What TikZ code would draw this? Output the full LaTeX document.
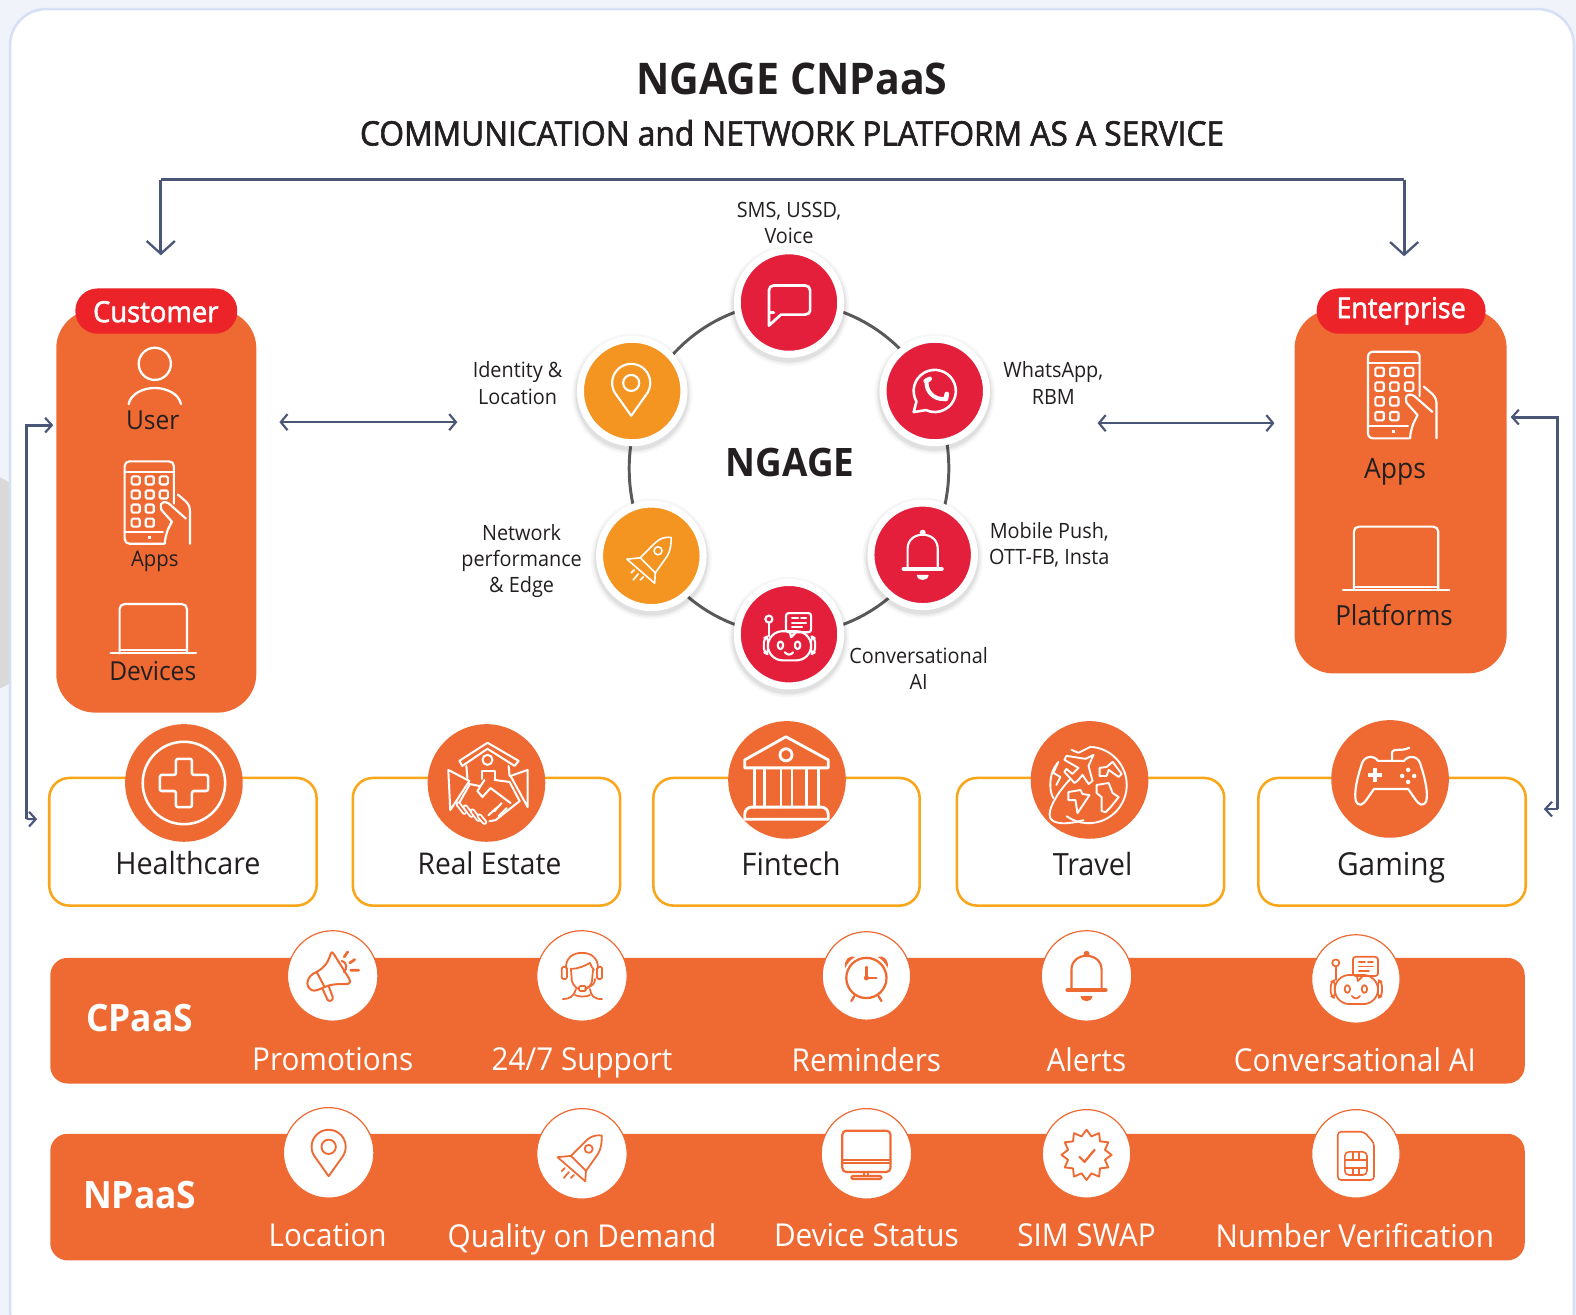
\documentclass[tikz,border=0pt]{standalone}
\usepackage{fontspec}
\setmainfont{Open Sans}[FakeStretch=0.94]
\newfontfamily\semib{Open Sans}[FakeStretch=0.94,FakeBold=1.8]
\usetikzlibrary{arrows.meta,fit}
\definecolor{ink}{HTML}{231F20}
\definecolor{cardorange}{HTML}{EF6A33}
\definecolor{pillred}{HTML}{EC2329}
\definecolor{discred}{HTML}{E31F3B}
\definecolor{discorange}{HTML}{F49421}
\definecolor{outline}{HTML}{FAA61A}
\definecolor{conncol}{HTML}{4A5678}
\definecolor{framecol}{HTML}{D6E0F5}
\definecolor{pagebg}{HTML}{F1F3FA}
\newcommand\px[2]{\fontsize{\fpeval{#1*0.75}}{\fpeval{#2*0.75}}\selectfont}
\tikzset{
  lbl/.style={inner sep=0pt,text=ink,align=center,text depth=0pt},
  wlbl/.style={inner sep=0pt,text=white,align=center,text depth=0pt},
  conn/.style={draw=conncol,line width=2.2pt,line join=miter},
  thinconn/.style={draw=conncol,line width=1.6pt},
  bigbarb/.style={-{Straight Barb[length=9.5pt,width=21pt,line width=1.7pt]}},
  smallbarb/.style={-{Straight Barb[length=5pt,width=11pt,line width=1.6pt]}},
  dblbarb/.style={{Straight Barb[length=5pt,width=12pt,line width=1.6pt]}-{Straight Barb[length=5pt,width=12pt,line width=1.6pt]}},
  cardbox/.style={inner sep=0pt,fill=cardorange,rounded corners=29pt},
  pillbox/.style={inner sep=0pt,fill=pillred,rounded corners=16.5pt},
  sector/.style={inner sep=0pt,draw=outline,line width=1.9pt,fill=white,rounded corners=15pt},
  bar/.style={inner sep=0pt,fill=cardorange,rounded corners=13pt},
  disc/.style={circle,inner sep=0pt,minimum size=77.25pt,draw=white,line width=5.25pt},
  sectordisc/.style={circle,inner sep=0pt,minimum size=87.75pt,fill=cardorange},
  whitedisc/.style={circle,inner sep=0pt,minimum size=67.5pt,fill=white,draw=cardorange,line width=.9pt},
  ico/.style={line width=1.6pt,line cap=round,line join=round},
  icow/.style={ico,color=white},
  icoo/.style={ico,color=cardorange},
}
\newcommand\iconphone{%
  \draw (49,42) -- (49,5) .. controls (49,2) and (47,0) .. (44,0) -- (5,0) .. controls (2,0) and (0,2) .. (0,5) -- (0,77) .. controls (0,80) and (2,82) .. (5,82) -- (39,82);
  \draw (0,11) -- (49,11);
  \draw (0,70) -- (38,70);
  \fill (23,74) rectangle (26,77);
  \foreach \cx in {11,25,39}{\foreach \cy in {19,33}{\draw[rounded corners=1pt] (\cx-4,\cy-4) rectangle (\cx+4,\cy+4);}}
  \foreach \cx in {11,25}{\foreach \cy in {47,61}{\draw[rounded corners=1pt] (\cx-4,\cy-4) rectangle (\cx+4,\cy+4);}}
  \draw (61,57) -- (44,42) .. controls (40,39) and (36,41) .. (36,44) .. controls (35,47) and (37,49) .. (39,51) -- (47,60) -- (43,68) .. controls (41,74) and (40,78) .. (40,82);
  \draw (53,33) -- (61,40) .. controls (64,43) and (65,46) .. (65,50) -- (65,82);
}
\newcommand\iconlaptop[3]{%
  \draw (0,#2) -- (0,5) .. controls (0,2) and (2,0) .. (5,0) -- (#1-5,0) .. controls (#1-2,0) and (#1,2) .. (#1,5) -- (#1,#2);
  \draw (0,#2-3) -- (#1,#2-3);
  \draw (-#3,#2) -- (#1+#3,#2);
}
\newcommand\iconbell{%
  \draw (-15,13) -- (-15,-6) .. controls (-15,-15) and (-8,-20) .. (0,-20) .. controls (8,-20) and (15,-15) .. (15,-6) -- (15,13);
  \draw[line width=3pt] (-19,14) -- (19,14);
  \fill (0,-22) circle[radius=3];
  \fill (-6,20) -- (6,20) .. controls (5,24) and (3,25) .. (0,25) .. controls (-3,25) and (-5,24) .. (-6,20) -- cycle;
}
\newcommand\iconbot{%
  \draw[rounded corners=11pt] (-21,-3) rectangle (22,26);
  \draw[rounded corners=3pt] (-25,4) -- (-21,2) -- (-21,20) -- (-25,18) -- cycle;
  \draw[rounded corners=3pt] (26,4) -- (22,2) -- (22,20) -- (26,18) -- cycle;
  \draw (-20,-15) circle[radius=3.5];
  \draw (-20,-11.5) -- (-20,2);
  \draw[rounded corners=2pt] (-3,-21) rectangle (22,-2);
  \draw (1,-2) -- (2,3) -- (7,-2);
  \draw (3,-16) -- (9,-16) (12,-16) -- (17,-16) (3,-11.5) -- (17,-11.5) (3,-7) -- (13,-7);
  \draw (-8.5,11) ellipse[x radius=2.7,y radius=3.8];
  \draw (8.5,11) ellipse[x radius=2.7,y radius=3.8];
  \draw (-4,18) .. controls (-2,21) and (2,21) .. (4,18);
}
\newcommand\iconpin[1]{%
  \draw (0,#1*1.72) -- (150:#1) arc[start angle=150,end angle=390,radius=#1] -- cycle;
  \draw (0,0) circle[radius=#1*0.42];
}
\newcommand\iconrocket{%
  \draw (19.7,-18.3) .. controls (12,-19) and (8,-17) .. (3,-12) -- (-11,2) -- (4,17) -- (16,0) .. controls (19,-5) and (20,-12) .. (19.7,-18.3) -- cycle;
  \draw (-11,2) -- (-24.3,3.3) -- (3.3,27.3) -- (4,17);
  \draw (6.7,-5) circle[radius=4];
  \draw (-17,14) -- (-20,17) (-13,18) -- (-18,24) (-8,21) -- (-11,24);
}
\begin{document}
\begin{tikzpicture}[x=0.75pt,y=-0.75pt]
\useasboundingbox (0,0) rectangle (1568,1308);
\fill[pagebg] (0,0) rectangle (1568,1308);
\fill[black!15] (0,475) -- (10,480) -- (10,680) -- (0,685) -- cycle;
\node[inner sep=0pt,fill=white,draw=framecol,line width=1.9pt,rounded corners=27pt,fit={(10,9)(1566,1340)}] (frame) {};

% title
\node[lbl,font=\px{43.4}{50}\bfseries] (title) at (788,78) {NGAGE CNPaaS};
\node[lbl,font=\px{33.5}{38}\semib] (subtitle) at (788,132) {COMMUNICATION and NETWORK PLATFORM AS A SERVICE};

% ring
\coordinate (ringc) at (785,466);
\draw[draw=black!65,line width=2.2pt] (ringc) ellipse[x radius=159,y radius=165];

% connector end points
\coordinate (topL) at (160,254);
\coordinate (topLc) at (160,179);
\coordinate (topRc) at (1397,179);
\coordinate (topR) at (1397,255);
\coordinate (dA) at (278,420);
\coordinate (dB) at (455,420);
\coordinate (dC) at (1092,421);
\coordinate (dD) at (1268,421);
\coordinate (lT) at (53,423);
\coordinate (lTc) at (26,423);
\coordinate (lBc) at (26,815);
\coordinate (lB) at (37,815);
\coordinate (rT) at (1503,415);
\coordinate (rTc) at (1550,415);
\coordinate (rBc) at (1550,805);
\coordinate (rB) at (1536,805);

\draw[conn,bigbarb] (topLc) -- (topL);
\draw[conn,bigbarb] (topRc) -- (topR);
\draw[conn] (topLc) -- (topRc);
\draw[thinconn,dblbarb] (dA) -- (dB);
\draw[thinconn,dblbarb] (dC) -- (dD);
\draw[conn,smallbarb] (lBc) -- (lTc) -- (lT);
\draw[thinconn,smallbarb,rounded corners=2pt] (lTc) -- (lBc) -- (lB);
\draw[conn,smallbarb] (rBc) -- (rTc) -- (rT);
\draw[thinconn,smallbarb] (rBc) -- (rB);

% customer card
\node[cardbox,fit={(56,308)(255,709)}] (customer) {};
\node[pillbox,fit={(75,287)(236,332)}] (customerpill) {};
\node[wlbl,font=\px{29}{32}\semib] (customertxt) at (155,310) {Customer};
\begin{scope}[icow]
  \draw[line width=1.7pt] (154,362) circle[radius=16];
  \draw[line width=1.7pt] (128,402) .. controls (130,392) and (142,386) .. (154,386) .. controls (166,386) and (178,392) .. (180,402);
\end{scope}
\node[lbl,font=\px{26}{32}] (usertxt) at (152,418) {User};
\begin{scope}[icow,shift={(124,459)}] \iconphone \end{scope}
\node[lbl,font=\px{21.5}{28}] (appstxt) at (154,556) {Apps};
\begin{scope}[icow,shift={(119,601)}] \iconlaptop{67}{49}{9} \end{scope}
\node[lbl,font=\px{26}{32}] (devtxt) at (152,668) {Devices};

% enterprise card
\node[cardbox,fit={(1288,308)(1499,670)}] (enterprise) {};
\node[pillbox,fit={(1310,287)(1478,332)}] (enterprisepill) {};
\node[wlbl,font=\px{28.5}{32}\semib] (enterprisetxt) at (1394,306) {Enterprise};
\begin{scope}[icow,shift={(1361,350)},scale=1.05] \iconphone \end{scope}
\node[lbl,font=\px{28}{34}] (eappstxt) at (1388,466) {Apps};
\begin{scope}[icow,shift={(1347,524)}] \iconlaptop{84}{63}{11} \end{scope}
\node[lbl,font=\px{27.5}{34}] (plattxt) at (1387,612) {Platforms};

% hub discs
\foreach \sx/\sy in {785/301,930/389,918/552,785/631,648/553,629/389}{
  \foreach \sr/\so in {60/.03,58/.04,56.5/.05}{\fill[black,opacity=\so] (\sx,\sy+3) circle[radius=\sr];}
}
\node[disc,fill=discred] (sms) at (785,301) {};
\node[disc,fill=discred] (whats) at (930,389) {};
\node[disc,fill=discred] (push) at (918,552) {};
\node[disc,fill=discred] (conv) at (785,631) {};
\node[disc,fill=discorange] (net) at (648,553) {};
\node[disc,fill=discorange] (loc) at (629,389) {};

\begin{scope}[icow,shift={(785,301)}]
  \draw[line width=2pt] (-15,10) -- (-20,10) -- (-20,-12) .. controls (-20,-15) and (-18,-17) .. (-15,-17) -- (16,-17) .. controls (19,-17) and (21,-15) .. (21,-12) -- (21,8) .. controls (21,10) and (19,12) .. (16,12) -- (-8,12) -- (-20,23) -- (-20,6);
\end{scope}
\begin{scope}[icow,shift={(930,389)}]
  \draw[line width=1.9pt] (-21,21) -- (150:21) arc[start angle=150,end angle=475,radius=21] -- cycle;
  \draw[line width=3pt] (-8,-9) .. controls (-9,0) and (-1,9) .. (10,8);
  \draw[line width=3.5pt] (-9,-10) -- (-5,-12);
  \draw[line width=3.5pt] (11,8) -- (12,3);
\end{scope}
\begin{scope}[icow,shift={(918,552)}] \iconbell \end{scope}
\begin{scope}[icow,shift={(785,631)}] \iconbot \end{scope}
\begin{scope}[icow,shift={(648,553)},line width=1.2pt] \iconrocket \end{scope}
\begin{scope}[icow,shift={(628,381)}] \iconpin{19} \end{scope}

\node[lbl,font=\px{39}{44}\bfseries] (ngage) at (786,460) {NGAGE};
\node[lbl,font=\px{21}{26}] (l1) at (785,221.5) {SMS, USSD,\\Voice};
\node[lbl,font=\px{21}{26}] (l2) at (1048,381) {WhatsApp,\\RBM};
\node[lbl,font=\px{21}{26}] (l3) at (1044,540.5) {Mobile Push,\\OTT-FB, Insta};
\node[lbl,font=\px{21}{26}] (l4) at (914,665) {Conversational\\AI};
\node[lbl,font=\px{21}{26}] (l5) at (519,556) {Network\\performance\\\& Edge};
\node[lbl,font=\px{21}{26}] (l6) at (515,381) {Identity \&\\Location};

% sector cards
\node[sector,fit={(49,774)(315,901)}] (s1) {};
\node[sector,fit={(351,774)(617,901)}] (s2) {};
\node[sector,fit={(650,774)(915,901)}] (s3) {};
\node[sector,fit={(952,774)(1218,901)}] (s4) {};
\node[sector,fit={(1252,774)(1518,901)}] (s5) {};
\node[sectordisc] (d1) at (183,779) {};
\node[sectordisc] (d2) at (484,779) {};
\node[sectordisc] (d3) at (783,776) {};
\node[sectordisc] (d4) at (1084,776) {};
\node[sectordisc] (d5) at (1383,775) {};
\node[lbl,font=\px{30.4}{36}] (t1) at (187,859) {Healthcare};
\node[lbl,font=\px{29.8}{36}] (t2) at (487,859) {Real Estate};
\node[lbl,font=\px{31}{36}] (t3) at (787,859) {Fintech};
\node[lbl,font=\px{30.5}{36}] (t4) at (1087,859) {Travel};
\node[lbl,font=\px{31.5}{36}] (t5) at (1384,859) {Gaming};

% healthcare
\begin{scope}[icow,shift={(183,779)},line width=1.9pt]
  \draw (0,0) circle[radius=41];
  \draw[rounded corners=1.5pt] (-8,-24) -- (8,-24) -- (8,-8) -- (24,-8) -- (24,8) -- (8,8) -- (8,24) -- (-8,24) -- (-8,8) -- (-24,8) -- (-24,-8) -- (-8,-8) -- cycle;
\end{scope}
% real estate
\begin{scope}[icow,shift={(484,779)},line width=1.5pt]
  \draw (-27,-22) -- (1,-40) -- (32,-22) -- (28,-17) -- (1,-34) -- (-24,-17) -- cycle;
  \draw (-20,-17) -- (-19,-5) (22,-17) -- (23,-7);
  \draw (1,-23) circle[radius=5];
  \draw (-4,-4) -- (-4,-12) -- (8,-12) -- (8,-3);
  \draw (-38,-13) -- (-17,-2) -- (-36,27) -- cycle;
  \draw (41,-13) -- (24,-7) -- (41,24) -- cycle;
  \draw (-17,1) -- (-7,3);
  \draw (-2,-3) -- (-9,8) -- (-4,14) -- (4,5) -- (24,20);
  \draw (8,-3) -- (23,-1) -- (33,18);
  \draw (33,18) -- (9,37) -- (3,38);
  \draw (-17,2) -- (-29,23);
  \foreach \a/\b/\c/\d in {-28/21/-22/29,-21/24/-15/32,-14/28/-8/36,-7/33/-2/39}{
    \draw[line width=4pt] (\a,\b) -- (\c,\d);
    \draw[color=cardorange,line width=1.2pt] (\a,\b) -- (\c,\d);
  }
  \draw (8,28) -- (15,20) (2,32) -- (11,24) (12,33) -- (20,25);
\end{scope}
% fintech
\begin{scope}[icow,shift={(783,776)},line width=2.1pt]
  \draw (-1,-43) -- (41,-20) -- (41,-12) -- (-42,-12) -- (-42,-20) -- cycle;
  \draw (-1,-25) circle[radius=6];
  \draw (-32,-11) -- (-32,27) (-22,-11) -- (-22,27) (-6,-11) -- (-6,27) (5,-11) -- (5,27) (19,-11) -- (19,27) (31,-11) -- (31,27);
  \draw (-35,27) -- (34,27) .. controls (38,27) and (41,30) .. (41,34) -- (41,39) -- (-42,39) -- (-42,34) .. controls (-42,30) and (-39,27) .. (-35,27) -- cycle;
\end{scope}
% travel
\begin{scope}[icow,shift={(1084,776)},line width=1.4pt]
  \draw (-1,5) ++ (-88:38) arc[start angle=-88,end angle=125,radius=38];
  \draw (-18,-30) -- (-11,-27) -- (1,-33);
  \draw (-31,-18) -- (-36,-7) -- (-29,-3) -- (-33,5) (-39,5) .. controls (-39,-5) and (-36,-12) .. (-31,-18);
  \draw (-39,5) .. controls (-39,10) and (-38,15) .. (-36,18);
  \draw (7,5) -- (19,3) -- (23,13) -- (29,17) -- (21,27) -- (16,32) -- (12,31) -- (12,17) -- (7,13) -- cycle;
  \draw (-21,12) -- (-9,10) -- (-7,14) -- (0,15) -- (-6,24) -- (-12,33) -- (-14,20) -- (-21,20) -- cycle;
  \draw (10,-12) -- (10,-4) -- (17,-4) -- (19,-10) -- (29,-3) -- (32,-6) -- (23,-18) -- (17,-13) -- cycle;
  \draw (4,-25) -- (-4,-21) -- (-23,-24) -- (-25,-20) -- (-11,-12) -- (-17,-6) -- (-23,-11) -- (-25,-8) -- (-15,3) -- (-12,1) -- (-7,-5) -- (-1,4) -- (3,1) -- (-1,-14) -- cycle;
  \draw (-19,-1) .. controls (-30,10) and (-43,30) .. (-39,38) .. controls (-35,45) and (-20,44) .. (-6,40);
\end{scope}
% gaming
\begin{scope}[icow,shift={(1384,775)},line width=1.6pt]
  \draw (-13,-18) -- (13,-18) .. controls (17,-24) and (28,-24) .. (30,-12) .. controls (34,0) and (37,14) .. (35,22) .. controls (32,28) and (28,26) .. (24,20) -- (17,10) -- (-17,10) -- (-24,20) .. controls (-28,26) and (-32,28) .. (-35,22) .. controls (-37,14) and (-34,0) .. (-30,-12) .. controls (-28,-24) and (-17,-24) .. (-13,-18) -- cycle;
  \draw (1,-18) -- (1,-27) .. controls (3,-31) and (10,-27) .. (18,-31);
  \draw[line width=3pt,line cap=butt] (-23,-4) -- (-9,-4) (-16,-11) -- (-16,3);
  \fill (17,-9) circle[radius=2.2] (11,-3) circle[radius=2.2] (23,-3) circle[radius=2.2] (17,3) circle[radius=2.2];
\end{scope}

% CPaaS / NPaaS bars
\node[bar,fit={(50,953)(1517,1078)}] (cpaas) {};
\node[bar,fit={(50,1128)(1517,1254)}] (npaas) {};
\node[wlbl,font=\px{37.5}{42}\bfseries] (cpaastxt) at (139,1013) {CPaaS};
\node[wlbl,font=\px{37.5}{42}\bfseries] (npaastxt) at (139,1189) {NPaaS};

\node[whitedisc] (c1) at (331,971) {};
\node[whitedisc] (c2) at (579,971) {};
\node[whitedisc,minimum size=66pt] (c3) at (862,971) {};
\node[whitedisc] (c4) at (1081,971) {};
\node[whitedisc,minimum size=66pt] (c5) at (1349,974) {};
\node[whitedisc] (n1) at (327,1147) {};
\node[whitedisc] (n2) at (579,1148) {};
\node[whitedisc] (n3) at (862,1148) {};
\node[whitedisc,minimum size=66pt] (n4) at (1081,1148) {};
\node[whitedisc,minimum size=66pt] (n5) at (1349,1148) {};

\node[wlbl,font=\px{31.4}{36}] (ct1) at (331,1054) {Promotions};
\node[wlbl,font=\px{31.4}{36}] (ct2) at (579,1054) {24/7 Support};
\node[wlbl,font=\px{31.4}{36}] (ct3) at (862,1054) {Reminders};
\node[wlbl,font=\px{31.4}{36}] (ct4) at (1081,1054) {Alerts};
\node[wlbl,font=\px{31.4}{36}] (ct5) at (1348,1054) {Conversational AI};
\node[wlbl,font=\px{31.4}{36}] (nt1) at (326,1229) {Location};
\node[wlbl,font=\px{31.4}{36}] (nt2) at (579,1229) {Quality on Demand};
\node[wlbl,font=\px{31.4}{36}] (nt3) at (862,1229) {Device Status};
\node[wlbl,font=\px{31.4}{36}] (nt4) at (1081,1229) {SIM SWAP};
\node[wlbl,font=\px{31.4}{36}] (nt5) at (1348,1229) {Number Verification};

% megaphone
\begin{scope}[icoo,shift={(331,971)},line width=1.5pt]
  \draw (-2,-22) .. controls (-5,-12) and (-9,-8) .. (-16,-4) .. controls (-26,0) and (-28,10) .. (-21,14) .. controls (-18,16) and (-13,13) .. (-8,11) .. controls (-2,8) and (6,8) .. (15,8) .. controls (18,7) and (18,4) .. (16,2) -- (1,-22) .. controls (0,-24) and (-2,-24) .. (-2,-22) -- cycle;
  \draw (-16,-4) -- (-8,11);
  \draw (-10,13) -- (-5,24) .. controls (-3,26) and (1,24) .. (0,21) -- (-4,10);
  \draw (9,-15) .. controls (14,-14) and (15,-7) .. (11,-4);
  \draw[line width=2pt] (11.5,-19) -- (15,-24) (17,-13) -- (22,-16.3) (18,-5.7) -- (26,-5.7);
\end{scope}
% support
\begin{scope}[icoo,shift={(579,971)},line width=1.3pt]
  \draw (-16,-8) .. controls (-16,-18) and (-9,-23) .. (0,-23) .. controls (9,-23) and (16,-18) .. (16,-8);
  \draw[rounded corners=1pt] (-20,-9) rectangle (-15,3);
  \draw[rounded corners=1pt] (15,-9) rectangle (20,3);
  \draw (-11,-7) .. controls (-4,-7) and (3,-10) .. (8,-13) .. controls (9,-10) and (10,-8) .. (12,-6);
  \draw (-11,-7) -- (-10,5) .. controls (-9,10) and (-4,13) .. (-3,13) (3,13) .. controls (5,13) and (10,9) .. (10,5) -- (11,-6);
  \draw[rounded corners=1pt] (-3,10) rectangle (4,15);
  \draw (13,3) .. controls (13,7) and (11,10) .. (4,12);
  \draw (-19,23) .. controls (-12,23) and (-8,20) .. (-6,13);
  \draw (20,23) .. controls (12,23) and (9,20) .. (8,13);
  \draw (-7,19) .. controls (-3,21) and (4,21) .. (8,19);
\end{scope}
% clock
\begin{scope}[icoo,shift={(862,972)},line width=1.7pt]
  \draw (0,1) circle[radius=20];
  \draw (0,-10) -- (0,1) -- (10,1);
  \fill (0,1) circle[radius=2.5];
  \fill (-21,-9) .. controls (-23,-17) and (-17,-22) .. (-11,-20) .. controls (-15,-18) and (-19,-14) .. (-21,-9) -- cycle;
  \fill (21,-9) .. controls (23,-17) and (17,-22) .. (11,-20) .. controls (15,-18) and (19,-14) .. (21,-9) -- cycle;
  \draw (-12,19) -- (-15,24) (12,19) -- (15,24);
\end{scope}
\begin{scope}[icoo,shift={(1081,971)}] \iconbell \end{scope}
\begin{scope}[icoo,shift={(1349,973)},line width=1.3pt] \iconbot \end{scope}
% NPaaS icons
\begin{scope}[icoo,shift={(327,1141)},line width=1.4pt] \iconpin{17} \end{scope}
\begin{scope}[icoo,shift={(579,1148)},line width=1.3pt] \iconrocket \end{scope}
\begin{scope}[icoo,shift={(862,1148)},line width=1.6pt]
  \draw[rounded corners=3pt] (-24,-23) rectangle (24,18);
  \draw (-24,6) -- (24,6) (-24,9) -- (24,9);
  \draw (-2,18) -- (-2,22) (2,18) -- (2,22);
  \draw[rounded corners=1pt] (-15,22) rectangle (15,25);
\end{scope}
\begin{scope}[icoo,shift={(1081,1149)},line width=1.4pt]
  \draw plot[samples at={0,1,...,23}] ({\x*15}:{22+3*cos(\x*180)}) -- cycle;
  \draw[line width=1.7pt] (-7,2) -- (-2,7) -- (8,-5);
\end{scope}
\begin{scope}[icoo,shift={(1349,1149)},line width=1.2pt]
  \draw[rounded corners=2.5pt] (-18,-23) -- (8,-23) -- (18,-12) -- (18,25) -- (-18,25) -- cycle;
  \draw[rounded corners=3pt] (-11,-3) rectangle (11,20);
  \draw (-11,5) -- (-3,5) (3,5) -- (11,5) (-11,13) -- (11,13) (-3,-3) -- (-3,5) (3,-3) -- (3,5) (-3,13) -- (-3,20) (3,13) -- (3,20) (-3,5) -- (3,5);
\end{scope}
\end{tikzpicture}
\end{document}
